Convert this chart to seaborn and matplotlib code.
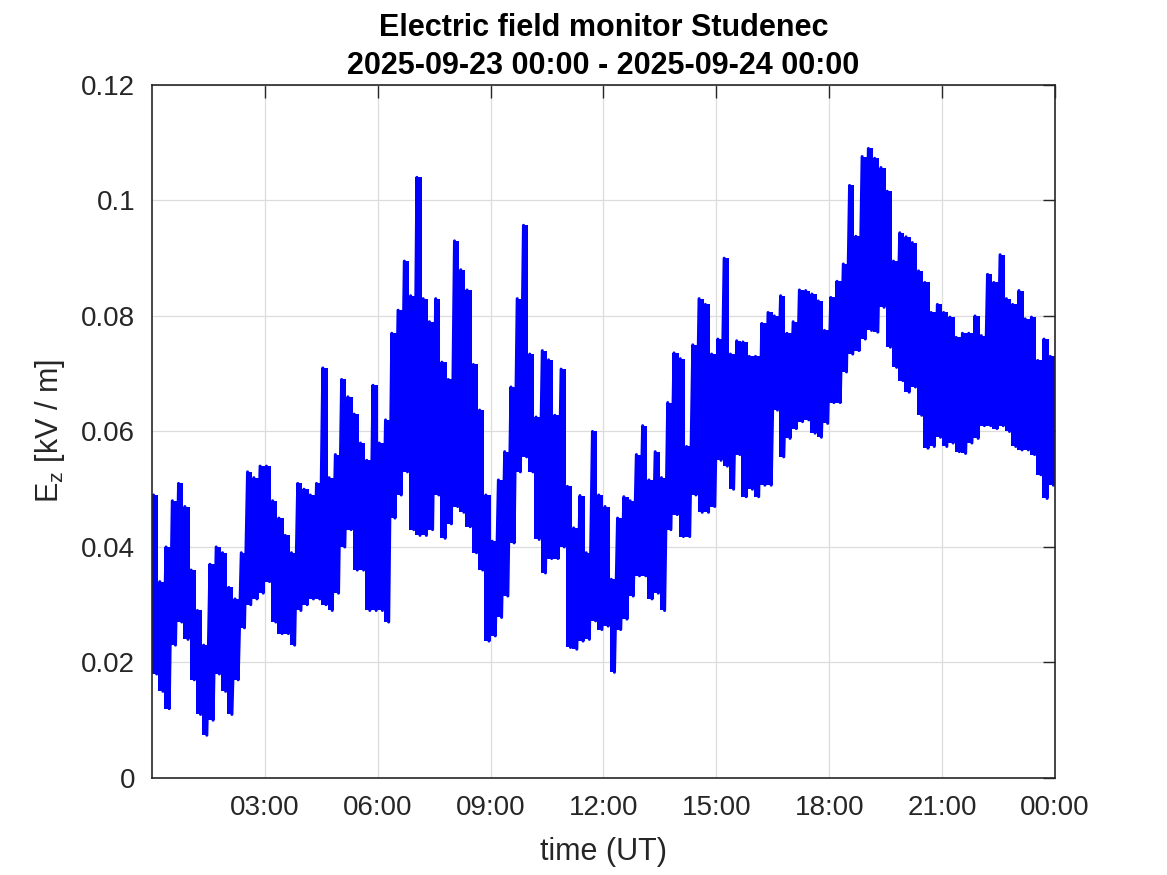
'''
Electric field monitor Studenec - Ez over one day (10 min high/low envelope read off the plot)
'''

import numpy as np
import pandas as pd
from matplotlib import pyplot as plt
import matplotlib.dates as mdates
from matplotlib.ticker import FormatStrFormatter
import seaborn as sns

day_start = '2025-09-23 00:00'
day_end = '2025-09-24 00:00'

# per 10 minute bin: highest and lowest Ez value [kV/m]
ez_high = [0.049, 0.034, 0.040, 0.048, 0.051, 0.047, 0.036, 0.029, 0.023, 0.037,
           0.040, 0.039, 0.033, 0.031, 0.039, 0.053, 0.052, 0.054, 0.054, 0.048,
           0.045, 0.042, 0.039, 0.051, 0.050, 0.049, 0.051, 0.071, 0.052, 0.056,
           0.069, 0.066, 0.063, 0.058, 0.055, 0.068, 0.058, 0.062, 0.077, 0.081,
           0.0895, 0.0835, 0.104, 0.083, 0.079, 0.083, 0.072, 0.069, 0.093, 0.088,
           0.0845, 0.0716, 0.0637, 0.049, 0.041, 0.0516, 0.0565, 0.0677, 0.083, 0.0957,
           0.0734, 0.0625, 0.074, 0.0724, 0.0628, 0.0708, 0.0505, 0.0433, 0.0489, 0.039,
           0.060, 0.049, 0.047, 0.0344, 0.045, 0.0487, 0.048, 0.056, 0.061, 0.0516,
           0.0565, 0.052, 0.065, 0.0736, 0.0726, 0.0574, 0.075, 0.083, 0.082, 0.0734,
           0.076, 0.090, 0.0734, 0.0757, 0.0755, 0.073, 0.073, 0.0787, 0.0806, 0.080,
           0.0835, 0.077, 0.079, 0.0845, 0.0844, 0.0838, 0.0826, 0.0775, 0.0832, 0.086,
           0.089, 0.1026, 0.0938, 0.1076, 0.109, 0.1073, 0.1057, 0.1016, 0.0895, 0.0944,
           0.0937, 0.0927, 0.0878, 0.0858, 0.0806, 0.082, 0.0806, 0.0798, 0.0763, 0.077,
           0.077, 0.080, 0.0766, 0.0872, 0.0858, 0.0906, 0.083, 0.082, 0.0844, 0.0795,
           0.0798, 0.0723, 0.076, 0.073]
ez_low = [0.018, 0.015, 0.012, 0.023, 0.027, 0.024, 0.017, 0.011, 0.0074, 0.010,
          0.018, 0.015, 0.011, 0.017, 0.026, 0.030, 0.031, 0.032, 0.034, 0.027,
          0.025, 0.025, 0.023, 0.029, 0.030, 0.031, 0.031, 0.030, 0.029, 0.032,
          0.040, 0.043, 0.036, 0.036, 0.029, 0.029, 0.029, 0.027, 0.045, 0.049,
          0.053, 0.043, 0.042, 0.042, 0.043, 0.049, 0.0415, 0.044, 0.047, 0.046,
          0.0435, 0.039, 0.036, 0.0237, 0.0246, 0.0278, 0.0315, 0.0407, 0.053, 0.0556,
          0.053, 0.0413, 0.0355, 0.038, 0.038, 0.040, 0.0226, 0.0223, 0.0237, 0.024,
          0.0272, 0.0257, 0.0263, 0.0183, 0.0257, 0.0275, 0.0315, 0.035, 0.035, 0.031,
          0.032, 0.029, 0.043, 0.0456, 0.0418, 0.0418, 0.049, 0.046, 0.046, 0.047,
          0.055, 0.054, 0.050, 0.056, 0.0487, 0.050, 0.0487, 0.0507, 0.0507, 0.0637,
          0.0556, 0.0588, 0.0605, 0.0617, 0.062, 0.0597, 0.059, 0.0614, 0.065, 0.065,
          0.0703, 0.0734, 0.074, 0.076, 0.0775, 0.0772, 0.0815, 0.0746, 0.0711, 0.0688,
          0.0668, 0.0677, 0.0628, 0.0571, 0.0574, 0.059, 0.0574, 0.058, 0.0565, 0.0562,
          0.058, 0.0588, 0.061, 0.061, 0.0605, 0.061, 0.060, 0.0574, 0.0568, 0.0568,
          0.056, 0.0525, 0.0484, 0.0507]

y_ticks = [0, 0.02, 0.04, 0.06, 0.08, 0.1, 0.12]
x_tick_hours = [3, 6, 9, 12, 15, 18, 21, 24]

# interleave high/low samples within each bin
t0 = pd.Timestamp(day_start)
times, vals = [], []
for k, (hi, lo) in enumerate(zip(ez_high, ez_low)):
    times.append(t0 + pd.Timedelta(minutes=10 * k + 2.5))
    vals.append(hi)
    times.append(t0 + pd.Timedelta(minutes=10 * k + 7.5))
    vals.append(lo)
df = pd.DataFrame({'time': times, 'Ez': vals})

# bin edges for the dense band under the trace
bin_edges = [t0 + pd.Timedelta(minutes=10 * k) for k in range(len(ez_high) + 1)]
band_hi = ez_high + [ez_high[-1]]
band_lo = ez_low + [ez_low[-1]]

sns.set_style('white')
plt.rcParams['font.family'] = ['Liberation Sans', 'DejaVu Sans']
plt.rcParams['mathtext.default'] = 'regular'

fig = plt.figure(figsize=(11.67, 8.75), dpi=100)
ax = fig.add_axes([0.1302, 0.1109, 0.7738, 0.792])

ax.fill_between(bin_edges, band_lo, band_hi, step='post', color='#0000ff', linewidth=0)
sns.lineplot(data=df, x='time', y='Ez', ax=ax, color='#0000ff', linewidth=2.2,
             estimator=None, sort=False)

ax.set_xlim(pd.Timestamp(day_start), pd.Timestamp(day_end))
ax.set_ylim(0, 0.12)
ax.set_yticks(y_ticks)
ax.yaxis.set_major_formatter(FormatStrFormatter('%g'))
ax.set_xticks([t0 + pd.Timedelta(hours=h) for h in x_tick_hours])
ax.xaxis.set_major_formatter(mdates.DateFormatter('%H:%M'))

dark = '#262626'
ax.grid(True, color='#dcdcdc', linewidth=0.9)
ax.set_axisbelow(True)
for s in ax.spines.values():
    s.set_color(dark)
    s.set_linewidth(1.2)
ax.tick_params(direction='in', length=9, width=1.0, colors=dark, labelsize=20,
               top=True, right=True, pad=12)

ax.set_xlabel('time (UT)', fontsize=22, color=dark, labelpad=12)
ax.set_ylabel('E$_{z}$ [kV / m]', fontsize=22, color=dark, labelpad=10)
ax.set_title('Electric field monitor Studenec\n2025-09-23 00:00 - 2025-09-24 00:00',
             fontsize=22, fontweight='bold', color='black', pad=8, linespacing=1.35)

fig.savefig('out.png', dpi=100)
